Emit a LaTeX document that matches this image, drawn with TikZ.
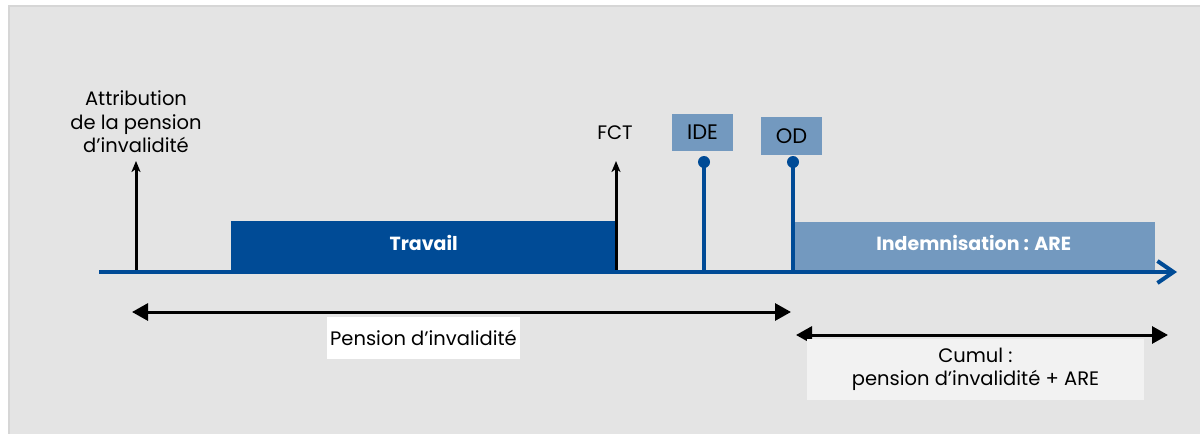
\documentclass[tikz,border=0pt]{standalone}
\usepackage{fontspec}
\setmainfont{Poppins}
\usetikzlibrary{arrows.meta}
\definecolor{darkblue}{HTML}{004B96}
\definecolor{lightblue}{HTML}{7399BF}
\definecolor{bggrey}{HTML}{E4E4E4}
\definecolor{edgegrey}{HTML}{D6D6D6}
\definecolor{cumulbg}{HTML}{F2F2F2}
\tikzset{
  period/.style={anchor=north west, inner sep=0pt},
  periodtext/.style={font=\fontsize{19}{22}\selectfont\bfseries, text=white},
  tag/.style={fill=lightblue, inner sep=0pt, font=\fontsize{21}{24}\selectfont},
  lbl/.style={font=\fontsize{19.5}{23.5}\selectfont, align=center, inner sep=0pt},
  event/.style={line width=3pt, -{Stealth[length=11pt,width=9pt,inset=3pt]}},
  milestone/.style={line width=3.5pt, darkblue},
  span/.style={line width=3pt, {Triangle[length=16pt,width=17pt]}-{Triangle[length=16pt,width=17pt]}},
}
\begin{document}
\begin{tikzpicture}[x=1pt,y=-1pt]
\useasboundingbox (0,0) rectangle (1200,434);
\fill[white] (0,0) rectangle (1200,434);
\fill[edgegrey] (8,5) rectangle (1200,434);
\fill[bggrey] (9.5,6.5) rectangle (1200,434);
% period boxes
\node[period, fill=darkblue, minimum width=385pt, minimum height=51pt] (travail) at (231,221) {};
\node[periodtext] at ([yshift=4pt]travail.center) {Travail};
\node[period, fill=lightblue, minimum width=363pt, minimum height=50pt] (indem) at (792,222) {};
\node[periodtext] at ([yshift=4pt]indem.center) {Indemnisation : ARE};
% axis
\coordinate (axstart) at (99,272);
\coordinate (axend) at (1177,272);
\draw[line width=4pt, darkblue, -{Straight Barb[length=16pt,width=22pt,line width=4pt]}] (axstart) -- (axend);
% attribution event
\coordinate (attrbase) at (136,270);
\coordinate (attrtop) at (136,161);
\draw[event] (attrbase) -- (attrtop);
\node[lbl, anchor=south] (attr) at (136,153) {Attribution\\de la pension\\d’invalidité};
% FCT
\coordinate (fctbase) at (616,270);
\coordinate (fcttop) at (616,161);
\draw[event] (fctbase) -- (fcttop);
\node[lbl] (fct) at (615,133) {FCT};
% IDE
\node[tag, minimum width=61pt, minimum height=37pt] (ide) at (702.5,132.5) {IDE};
\coordinate (idebase) at (704,270);
\coordinate (idedot) at (704,162);
\draw[milestone] (idebase) -- (idedot);
\fill[darkblue] (idedot) circle (6pt);
% OD
\node[tag, minimum width=61pt, minimum height=38pt] (od) at (791.5,136) {OD};
\coordinate (odbase) at (793,270);
\coordinate (oddot) at (793,162);
\draw[milestone] (odbase) -- (oddot);
\fill[darkblue] (oddot) circle (6pt);
% pension span
\coordinate (pstart) at (132,312);
\coordinate (pend) at (791,312);
\draw[span] (pstart) -- (pend);
\node[fill=white, minimum width=193pt, minimum height=42pt, inner sep=0pt, font=\fontsize{19.5}{23.5}\selectfont] (pension) at (423.5,338) {Pension d’invalidité};
% cumul span
\coordinate (cstart) at (796,335);
\coordinate (cend) at (1168,335);
\draw[span] (cstart) -- (cend);
\node[fill=cumulbg, minimum width=337pt, minimum height=61pt, inner sep=0pt] (cumulbox) at (975.5,369.5) {};
\node[lbl] (cumul) at (cumulbox.center) {Cumul :\\pension d’invalidité + ARE};
\end{tikzpicture}
\end{document}
